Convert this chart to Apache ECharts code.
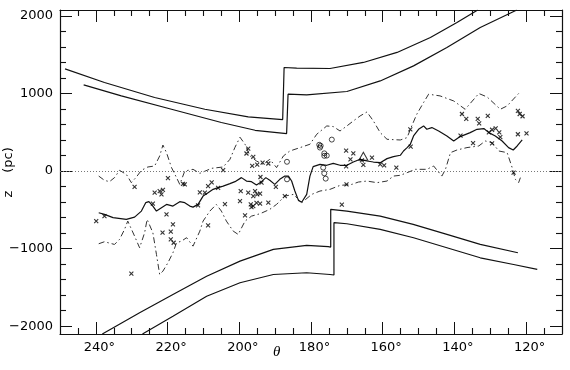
<!DOCTYPE html>
<html><head><meta charset="utf-8">
<script src="https://cdn.jsdelivr.net/npm/echarts@6/dist/echarts.min.js"></script>
<style>html,body{margin:0;padding:0;background:#fff}#c{width:570px;height:370px}</style>
</head><body><div id="c"></div>
<script>
// ---- tick values ----
const xMajorTicks = [120, 140, 160, 180, 200, 220, 240];
const xMinorTicks = [115,125,130,135,145,150,155,165,170,175,185,190,195,205,210,215,225,230,235,245];
const yMajorTicks = [-2000, -1000, 0, 1000, 2000];
const yMinorTicks = [-1800,-1600,-1400,-1200,-800,-600,-400,-200,200,400,600,800,1200,1400,1600,1800];

// ---- data: [theta (deg), z (pc)] ----
const upperOuterBound = [[248.6,1316],[237.6,1141],[223.6,947],[209.6,796],[197.5,697],[187.9,663],[187.5,663],[187.5,1334],[184.0,1325],[174.7,1321],[165.4,1399],[156.0,1528],[146.7,1721],[139.3,1915],[133.5,2075]];
const upperInnerBound = [[243.4,1110],[232.9,968],[218.9,796],[205.0,625],[195.6,525],[186.8,483],[186.4,483],[186.4,990],[181.2,981],[170.0,1025],[160.7,1161],[151.4,1355],[142.1,1592],[132.8,1850],[122.6,2075]];
const lowerInnerBound = [[238.2,-2100],[227.8,-1827],[218.5,-1591],[209.1,-1355],[199.8,-1161],[190.5,-1010],[181.2,-959],[175.2,-975],[174.5,-980],[174.5,-494],[170.0,-516],[160.7,-581],[151.5,-688],[142.1,-817],[132.8,-946],[122.3,-1053]];
const lowerOuterBound = [[227.0,-2100],[218.5,-1871],[209.1,-1613],[199.8,-1440],[190.5,-1333],[181.2,-1311],[174.7,-1333],[173.6,-1340],[173.6,-666],[170.0,-679],[160.7,-752],[151.4,-860],[142.1,-989],[132.8,-1118],[123.5,-1204],[116.9,-1268]];

const meanCurve = [[239.2,-537],[237.6,-559],[235.2,-601],[231.5,-623],[229.2,-594],[227.3,-516],[226.1,-408],[225.2,-395],[224.1,-452],[223.1,-516],[221.7,-472],[220.3,-430],[218.5,-452],[216.6,-395],[215.2,-408],[213.8,-452],[212.9,-465],[211.5,-430],[210.1,-323],[208.7,-279],[207.3,-236],[205.9,-214],[204.5,-194],[202.6,-163],[201.2,-137],[199.4,-85],[198.0,-129],[196.6,-137],[195.2,-181],[193.8,-137],[192.6,-85],[191.5,-120],[190.1,-172],[188.7,-107],[187.3,-65],[186.3,-65],[185.4,-129],[184.5,-258],[183.5,-378],[182.6,-402],[181.2,-301],[180.3,-65],[179.4,57],[177.5,86],[175.6,74],[173.8,99],[171.9,74],[170.0,74],[168.2,116],[166.3,151],[164.4,129],[162.6,116],[160.7,108],[158.8,160],[157.0,186],[155.1,203],[154.2,258],[153.2,302],[152.3,345],[151.4,452],[150.0,538],[148.6,581],[147.7,538],[146.3,560],[144.4,516],[142.1,452],[140.2,387],[138.4,444],[135.6,495],[133.7,538],[131.8,547],[130.4,495],[128.6,452],[126.7,387],[124.9,302],[123.6,271],[122.5,323],[121.1,400]];

const upperEnvelope = [[239.2,-65],[237.6,-120],[236.2,-137],[234.8,-85],[233.4,9],[231.5,-43],[230.1,-150],[228.7,-77],[227.3,9],[225.5,52],[223.6,65],[222.2,194],[221.3,335],[220.3,237],[218.9,44],[217.5,-85],[216.6,-172],[215.2,0],[212.9,22],[211.0,-30],[207.7,35],[204.5,52],[202.6,151],[201.2,306],[199.8,435],[198.4,345],[197.0,194],[195.2,129],[193.3,86],[191.5,151],[189.6,44],[187.7,194],[185.9,258],[183.1,301],[180.3,345],[178.4,474],[175.6,581],[173.8,573],[171.9,516],[170.0,581],[168.2,645],[166.3,710],[164.4,761],[162.6,645],[160.7,495],[158.8,409],[155.1,400],[153.2,431],[151.9,581],[150.5,732],[148.6,883],[147.2,990],[144.0,968],[140.2,903],[137.0,796],[133.2,999],[130.9,955],[127.2,796],[125.3,839],[122.1,999]];

const lowerEnvelope = [[239.2,-937],[237.6,-911],[234.8,-946],[233.4,-881],[232.0,-752],[231.1,-645],[229.2,-839],[227.8,-989],[226.4,-795],[225.7,-623],[224.1,-795],[223.1,-1075],[222.2,-1333],[221.3,-1290],[219.9,-1182],[218.5,-1053],[217.5,-924],[216.1,-903],[214.7,-859],[212.9,-968],[211.0,-774],[210.1,-645],[208.2,-516],[206.4,-430],[205.0,-516],[203.6,-645],[201.7,-774],[200.3,-817],[198.4,-645],[196.6,-581],[194.2,-550],[191.5,-494],[189.6,-430],[187.3,-323],[184.9,-301],[182.6,-408],[179.8,-301],[177.5,-258],[174.7,-236],[171.9,-185],[168.6,-172],[166.8,-142],[164.4,-129],[161.6,-150],[158.8,-129],[157.0,-65],[155.1,-55],[153.2,-21],[150.9,22],[147.7,22],[145.8,65],[143.5,-65],[142.5,22],[141.1,237],[139.3,271],[136.5,302],[133.2,323],[131.4,387],[129.5,366],[127.6,258],[125.3,237],[123.9,44],[123.0,-107],[122.1,-150],[121.6,-85]];

const crossPoints = [[239.9,-645],[237.6,-581],[229.2,-204],[230.1,-1323],[224.1,-419],[223.6,-279],[222.2,-258],[221.7,-301],[221.3,-243],[219.9,-90],[220.3,-559],[218.5,-688],[221.4,-795],[219.1,-782],[219.1,-881],[218.3,-924],[215.7,-165],[215.2,-172],[211.5,-443],[211.0,-275],[209.6,-279],[208.7,-194],[207.7,-146],[208.7,-701],[205.9,-217],[204.0,-426],[204.5,13],[199.8,-387],[199.6,-258],[198.4,-572],[197.5,-279],[196.1,-323],[195.6,-258],[195.0,-301],[194.2,-292],[196.1,-452],[195.2,-410],[194.2,-421],[196.8,-430],[196.6,-465],[191.9,-408],[187.3,-323],[189.8,-204],[193.8,-150],[194.1,-77],[198.0,226],[197.5,290],[196.1,183],[196.4,65],[195.0,83],[193.5,108],[191.9,97],[171.4,-434],[170.2,263],[168.2,228],[169.0,151],[165.8,138],[163.0,173],[165.4,80],[160.7,86],[159.6,74],[156.2,44],[170.2,61],[170.1,-172],[152.3,538],[152.2,315],[137.9,735],[136.7,671],[133.5,671],[133.1,615],[130.7,710],[138.3,457],[134.8,361],[129.5,357],[130.4,499],[129.5,532],[128.5,551],[127.5,499],[127.2,437],[122.3,774],[121.8,735],[121.0,706],[122.3,474],[119.9,486],[123.5,-21]];
const circlePoints = [[186.7,119],[186.7,-107],[174.2,405],[177.7,338],[177.5,302],[177.3,325],[176.3,228],[175.6,199],[176.3,196],[176.6,44],[176.3,-30],[175.9,-98]];
const trianglePoints = [[165.4,190]];

// ---- chart ----
const FONT = 'DejaVu Sans';
const INK = '#111';
const CLEAR = 'rgba(0,0,0,0)';
const X_MIN = 110, X_MAX = 250, Y_MIN = -2100, Y_MAX = 2075;
const GRID = {left: 60, right: 8, top: 10, bottom: 36};
const PLOT_W = 570 - GRID.left - GRID.right, PLOT_H = 370 - GRID.top - GRID.bottom;
const MAJOR_LEN = 12, MINOR_LEN = 6;

function frameAxis(position, isX, showLabel) {
  const ax = {
    type: 'value', position, min: isX ? X_MIN : Y_MIN, max: isX ? X_MAX : Y_MAX, inverse: isX,
    splitLine: {show: false},
    axisTick: {show: true, inside: true, length: MAJOR_LEN, customValues: isX ? xMajorTicks : yMajorTicks,
      lineStyle: {color: INK, width: 1}},
    axisLine: {show: true, onZero: false, lineStyle: {color: INK, width: 1.2}},
    axisLabel: {show: false}
  };
  if (showLabel) {
    ax.axisLabel = isX
      ? {show: true, customValues: xMajorTicks, margin: 7, color: '#000', fontFamily: FONT, fontSize: 13,
         padding: [0, 0, 0, 7], formatter: v => v + '°'}
      : {show: true, customValues: yMajorTicks, margin: 7, color: '#000', fontFamily: FONT, fontSize: 13,
         formatter: v => (v < 0 ? '\u2212' + Math.abs(v) : String(v))};
  }
  return ax;
}

// inward tick marks on all four sides, as markLine segments positioned by the axes' scales
function tickSegments(values, isX, len) {
  const dx = len * (X_MAX - X_MIN) / PLOT_W;
  const dy = len * (Y_MAX - Y_MIN) / PLOT_H;
  const out = [];
  values.forEach(v => {
    if (isX) {
      out.push([{coord: [v, Y_MIN]}, {coord: [v, Y_MIN + dy]}]);
      out.push([{coord: [v, Y_MAX]}, {coord: [v, Y_MAX - dy]}]);
    } else {
      out.push([{coord: [X_MAX, v]}, {coord: [X_MAX - dx, v]}]);
      out.push([{coord: [X_MIN, v]}, {coord: [X_MIN + dx, v]}]);
    }
  });
  return out;
}

const solid = {color: INK, width: 1.2};
const dashDot = {color: '#333', width: 1, type: [6, 3, 1.5, 3]};

function lineSeries(data, style) {
  return {type: 'line', data, symbol: 'none', showSymbol: false,
    lineStyle: style, clip: true, silent: true, z: 2};
}

const meanSeries = lineSeries(meanCurve, solid);
meanSeries.markLine = {
  silent: true, symbol: ['none', 'none'], label: {show: false},
  lineStyle: {color: '#777', width: 1, type: [1, 2]},
  data: [{yAxis: 0}]
};

const tickHolder = lineSeries(upperOuterBound, solid);
tickHolder.markLine = {
  silent: true, symbol: ['none', 'none'], label: {show: false}, animation: false,
  lineStyle: {color: INK, width: 1.1, type: 'solid'},
  data: [].concat(
    tickSegments(xMinorTicks, true, MINOR_LEN),
    tickSegments(yMinorTicks, false, MINOR_LEN)
  )
};

const option = {
  animation: false,
  backgroundColor: '#fff',
  grid: GRID,
  xAxis: [frameAxis('bottom', true, true), frameAxis('top', true, false)],
  yAxis: [frameAxis('left', false, true), frameAxis('right', false, false)],
  series: [
    tickHolder,
    lineSeries(upperInnerBound, solid),
    lineSeries(lowerInnerBound, solid),
    lineSeries(lowerOuterBound, solid),
    meanSeries,
    lineSeries(upperEnvelope, dashDot),
    lineSeries(lowerEnvelope, dashDot),
    {type: 'scatter', data: crossPoints, z: 3,
      symbol: 'path://M0 0L10 10M10 0L0 10', symbolSize: 4,
      itemStyle: {color: 'none', borderColor: '#000', borderWidth: 1.1}},
    {type: 'scatter', data: circlePoints, z: 3,
      symbol: 'circle', symbolSize: 5,
      itemStyle: {color: CLEAR, borderColor: '#000', borderWidth: 0.9}},
    {type: 'scatter', data: trianglePoints, z: 3,
      symbol: 'triangle', symbolSize: [9, 8],
      itemStyle: {color: CLEAR, borderColor: '#000', borderWidth: 1}}
  ],
  graphic: [
    {type: 'text', left: 273, top: 345, style: {text: 'θ', font: 'italic 15px "Liberation Serif"', fill: '#000'}},
    {type: 'text', x: 9, y: 160, rotation: Math.PI / 2,
      style: {text: '(pc)', font: '13px "DejaVu Sans"', fill: '#000', align: 'center', verticalAlign: 'middle'}},
    {type: 'text', x: 9, y: 194, rotation: Math.PI / 2,
      style: {text: 'z', font: '13px "DejaVu Sans"', fill: '#000', align: 'center', verticalAlign: 'middle'}}
  ]
};

const chart = echarts.init(document.getElementById('c'), null, {renderer: 'canvas'});
chart.setOption(option);
</script>
</body></html>
